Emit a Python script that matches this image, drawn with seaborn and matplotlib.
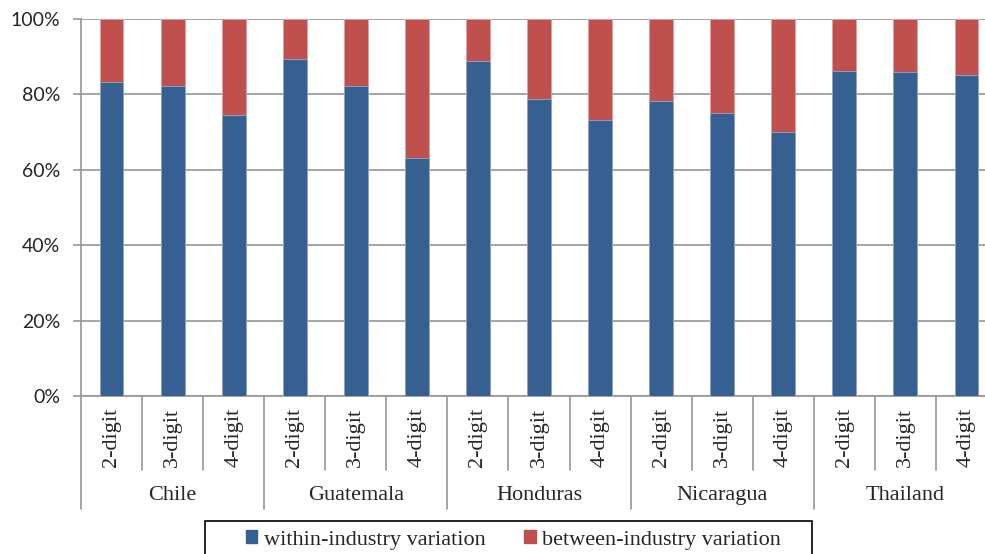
import numpy as np
import pandas as pd
import seaborn as sns
import matplotlib.pyplot as plt
from matplotlib.patches import Patch, Rectangle
from matplotlib.transforms import blended_transform_factory

# Data (shares in %)
countries = ["Chile", "Guatemala", "Honduras", "Nicaragua", "Thailand"]
levels = ["2-digit", "3-digit", "4-digit"]
within = [83.3, 82.1, 74.5,
          89.5, 82.3, 63.0,
          88.8, 78.8, 73.2,
          78.2, 75.1, 70.0,
          86.2, 85.9, 85.1]
between = [16.7, 17.9, 25.5,
           10.5, 17.7, 37.0,
           11.2, 21.2, 26.8,
           21.8, 24.9, 30.0,
           13.8, 14.1, 14.9]

BLUE = "#366092"
RED = "#C0504D"
GRID = "#969696"

rows = []
for i, c in enumerate(countries):
    for j, lv in enumerate(levels):
        k = i * len(levels) + j
        rows.append({"key": f"{c} {lv}", "country": c, "level": lv,
                     "within": within[k] / 100.0,
                     "total": (within[k] + between[k]) / 100.0})
df = pd.DataFrame(rows)
order = list(df["key"])

sns.set_style("white")
plt.rcParams["font.family"] = ["Liberation Serif", "DejaVu Serif"]

W, H = 985, 554
fig = plt.figure(figsize=(W / 100, H / 100), dpi=100)
ax = fig.add_axes([81 / W, 1 - 396 / H, 916 / W, 377 / H])

sns.barplot(data=df, x="key", y="total", order=order, color=RED, width=0.39,
            edgecolor="#dfa2a0", linewidth=0.6, saturation=1, ax=ax, zorder=2)
sns.barplot(data=df, x="key", y="within", order=order, color=BLUE, width=0.39,
            edgecolor="#93a9c8", linewidth=0.6, saturation=1, ax=ax, zorder=3)

n = len(order)
ax.set_xlim(-0.5, n - 0.5)
ax.set_ylim(0, 1.0)
ax.set_yticks(np.arange(0, 1.01, 0.2))
ax.set_yticklabels([f"{int(round(v * 100))}%" for v in np.arange(0, 1.01, 0.2)],
                   family="Lato", fontsize=14)
ax.yaxis.grid(True, color=GRID, linewidth=1.2, zorder=0)
ax.set_axisbelow(True)
ax.tick_params(axis="y", direction="out", length=6, width=1.2, color=GRID,
               pad=9, left=True)
ax.tick_params(axis="x", bottom=False, labelbottom=False)
ax.set_xlabel("")
ax.set_ylabel("")
for s in ["top", "right"]:
    ax.spines[s].set_visible(False)
for s in ["left", "bottom"]:
    ax.spines[s].set_color(GRID)
    ax.spines[s].set_linewidth(1.2)

# two-level category axis
tr = blended_transform_factory(ax.transData, ax.transAxes)
for k in range(n):
    ax.text(k, -0.032, df["level"][k], rotation=90, ha="center", va="top",
            fontsize=16, transform=tr)
for b in range(n + 1):
    x = b - 0.5
    low = -0.300 if b % len(levels) == 0 else -0.196
    ax.plot([x, x], [0, low], color=GRID, linewidth=1.2, transform=tr,
            clip_on=False)
for i, c in enumerate(countries):
    ax.text(i * len(levels) + 1, -0.265, c, ha="center", va="center",
            fontsize=16, transform=tr)

# legend box (runs off the bottom edge like the original)
fig.patches.append(Rectangle((205 / W, 1 - 570 / H), 607 / W, 49 / H,
                             transform=fig.transFigure, fill=False,
                             edgecolor="black", linewidth=1.2))
handles = [Patch(facecolor=BLUE, edgecolor=BLUE, label="within-industry variation"),
           Patch(facecolor=RED, edgecolor=RED, label="between-industry variation")]
fig.legend(handles=handles, loc="center left", ncol=2,
           bbox_to_anchor=(246 / W, 1 - 540 / H), frameon=False,
           fontsize=16, handlelength=0.5, handleheight=0.5,
           handletextpad=0.3, columnspacing=1.75, borderpad=0,
           borderaxespad=0)

fig.savefig("out.png", dpi=100)
